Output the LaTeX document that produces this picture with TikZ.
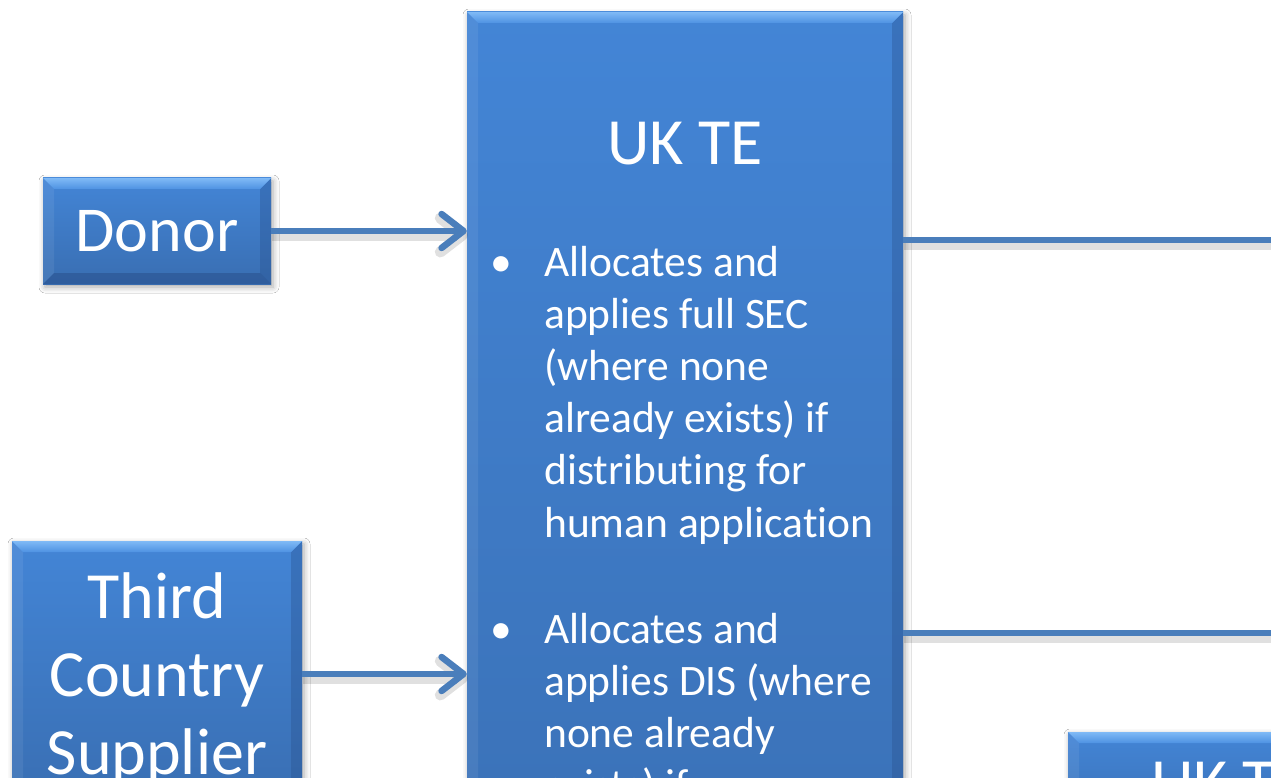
\documentclass[tikz,border=0pt]{standalone}
\usepackage{fontspec}
\setmainfont{Carlito}[Ligatures=NoCommon]
\usetikzlibrary{arrows.meta,shadows.blur,calc}

\definecolor{boxtop}{RGB}{67,133,214}
\definecolor{boxbot}{RGB}{57,110,178}
\definecolor{bevhi}{RGB}{128,186,246}
\definecolor{bevmid}{RGB}{78,146,226}
\definecolor{bevdark}{RGB}{40,80,140}
\definecolor{conncol}{RGB}{74,126,187}

\def\bv{11pt}

\tikzset{
  box/.style={rectangle, inner sep=0pt, text=white, align=center,
    top color=boxtop, bottom color=boxbot,
    blur shadow={shadow xshift=2pt, shadow yshift=-3pt,
                 shadow blur radius=6pt, shadow opacity=35},
    path picture={
      \path (path picture bounding box.north west) coordinate (pnw)
            (path picture bounding box.north east) coordinate (pne)
            (path picture bounding box.south west) coordinate (psw)
            (path picture bounding box.south east) coordinate (pse);
      % left facet
      \fill[white, fill opacity=0.07] (pnw) -- ([shift={(\bv,-\bv)}]pnw)
        -- ([shift={(\bv,\bv)}]psw) -- (psw) -- cycle;
      % right facet
      \fill[bevdark, fill opacity=0.35] (pne) -- ([shift={(-\bv,-\bv)}]pne)
        -- ([shift={(-\bv,\bv)}]pse) -- (pse) -- cycle;
      % bottom facet
      \fill[bevdark, fill opacity=0.55] (psw) -- ([shift={(\bv,\bv)}]psw)
        -- ([shift={(-\bv,\bv)}]pse) -- (pse) -- cycle;
      % top facet
      \shade[top color=bevhi, bottom color=bevmid] (pnw) -- (pne)
        -- ([shift={(-\bv,-\bv)}]pne) -- ([shift={(\bv,-\bv)}]pnw) -- cycle;
    }},
  bigfont/.style={font=\fontsize{66}{78}\selectfont},
  namefont/.style={font=\fontsize{64}{76}\selectfont},
  itemfont/.style={font=\fontsize{43.5}{52.2}\selectfont, text=white},
  conn/.style={draw=conncol, line width=6.5pt,
    preaction={draw=black, draw opacity=0.12, line width=11pt,
               transform canvas={shift={(1pt,-4pt)}}}},
  arr/.style={conn, -{Straight Barb[length=22pt, width=34pt, round]}},
}

\begin{document}
\begin{tikzpicture}[x=1pt, y=-1pt]
  \useasboundingbox (0,0) rectangle (1271,778);
  \fill[white] (0,0) rectangle (1271,778);
  \clip (0,0) rectangle (1271,778);

  % boxes
  \node[box, namefont, minimum width=228pt, minimum height=106pt] (donor) at (157,231) {Donor};
  \node[box, bigfont, minimum width=290pt, minimum height=266pt] (tcs) at (157,674)
    {\rule{0pt}{56pt}Third\\Country\\Supplier};
  \node[box, minimum width=436pt, minimum height=988pt] (ukte) at (685,506) {};
  \node[box, bigfont, minimum width=322pt, minimum height=104pt] (ukte2) at (1229,784) {UK TE};

  % contents of the UK TE box (base anchor = baseline of the last line)
  \node[bigfont, text=white, anchor=base] (title) at (685,165) {UK TE};
  \node[itemfont, anchor=base] (bul1) at (501,276) {•};
  \node[itemfont, anchor=base west, align=left, inner sep=0pt] (item1) at (544,537)
    {Allocates and\\applies full SEC\\(where none\\already exists) if\\distributing for\\human application};
  \node[itemfont, anchor=base] (bul2) at (501,643) {•};
  \node[itemfont, anchor=base west, align=left, inner sep=0pt] (item2) at (544,799.6)
    {Allocates and\\applies DIS (where\\none already\\exists) if};

  % connectors
  \coordinate (out1) at (1300,240);
  \coordinate (out2) at (1300,633);
  \draw[arr] (donor.east) -- (donor.east -| ukte.west);
  \draw[arr] (tcs.east) -- (tcs.east -| ukte.west);
  \draw[conn] (ukte.east |- out1) -- (out1);
  \draw[conn] (ukte.east |- out2) -- (out2);
\end{tikzpicture}
\end{document}
